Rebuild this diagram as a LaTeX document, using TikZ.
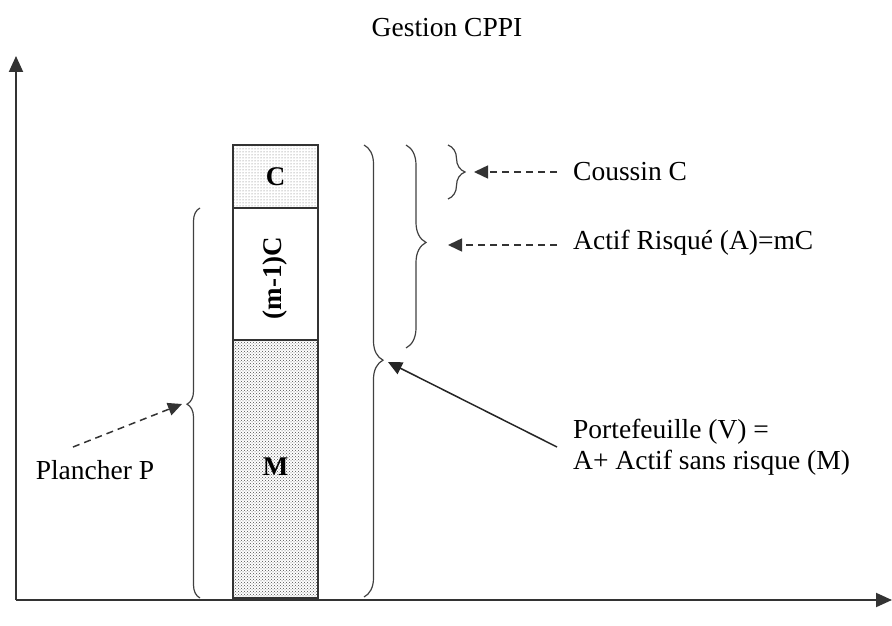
\documentclass[tikz,border=0pt]{standalone}
\usepackage{fontspec}
\setmainfont{Liberation Serif}
\usetikzlibrary{arrows.meta,patterns,decorations.pathreplacing}
\begin{document}
\begin{tikzpicture}[x=1pt,y=-1pt,
  lbl/.style={font=\fontsize{27.5}{31}\selectfont, inner sep=0pt},
  blbl/.style={font=\fontsize{27}{30}\selectfont\bfseries, inner sep=0pt},
  axis/.style={draw=black!80, line width=2pt, -{Triangle[length=16pt,width=14pt]}},
  bracestyle/.style={draw=black!75, line width=1.2pt, decorate},
  dasharrow/.style={draw=black!80, line width=1.5pt, dash pattern=on 7pt off 5pt, -{Triangle[length=14pt,width=13pt]}},
  solarrow/.style={draw=black!85, line width=1.5pt, -{Triangle[length=14pt,width=13pt]}},
  seg/.style={draw=black!80, line width=1.6pt}]
\useasboundingbox (0,0) rectangle (892,626);
% title
\node[lbl] (title) at (447,28) {Gestion CPPI};
% axes
\coordinate (origin) at (16,600);
\coordinate (ytip) at (16,56);
\coordinate (xtip) at (892,600);
\draw[axis] (origin) -- (ytip);
\draw[axis] (origin) -- (xtip);
% bar
\path[seg, pattern=dots, pattern color=black!60] (233,145) rectangle (318,208);
\path[seg, fill=white] (233,208) rectangle (318,340);
\path[seg, pattern=crosshatch dots, pattern color=black!70] (233,340) rectangle (318,598);
\node[blbl] (cl) at (275.5,177) {C};
\node[blbl, rotate=90] (ml) at (275.5,278) {(m-1)C};
\node[blbl] (mm) at (275.5,467) {M};
% braces
\coordinate (pT) at (200,208); \coordinate (pB) at (200,598);
\coordinate (pTip) at (188,404);
\draw[bracestyle, decoration={brace, amplitude=13pt, aspect=0.497}] (pB) -- (pT);
\coordinate (vT) at (364,145); \coordinate (vB) at (364,597);
\coordinate (vTip) at (384,360);
\draw[bracestyle, decoration={brace, amplitude=19pt, aspect=0.476}] (vT) -- (vB);
\coordinate (aT) at (406,145); \coordinate (aB) at (406,348);
\coordinate (aTip) at (427,243);
\draw[bracestyle, decoration={brace, amplitude=20pt, aspect=0.48}] (aT) -- (aB);
\coordinate (cT) at (448,145); \coordinate (cB) at (448,199);
\coordinate (cTip) at (466,172);
\draw[bracestyle, decoration={brace, amplitude=17pt, aspect=0.5}] (cT) -- (cB);
% labels
\node[lbl, anchor=west] (coussin) at (573,172) {Coussin C};
\node[lbl, anchor=west] (actif) at (573,243) {Actif Risqué (A)=mC};
\node[lbl, anchor=west, align=left] (port) at (573,447) {Portefeuille (V) =\\A+ Actif sans risque (M)};
\node[lbl] (planch) at (95,470) {Plancher P};
% arrows
\coordinate (cS) at (557,172); \coordinate (cE) at (474,172);
\draw[dasharrow] (cS) -- (cE);
\coordinate (aS) at (557,245); \coordinate (aE) at (448,245);
\draw[dasharrow] (aS) -- (aE);
\coordinate (vS) at (557,447); \coordinate (vE) at (388,362);
\draw[solarrow] (vS) -- (vE);
\coordinate (pS) at (73,447); \coordinate (pE) at (182,404);
\draw[dasharrow] (pS) -- (pE);
\end{tikzpicture}
\end{document}
